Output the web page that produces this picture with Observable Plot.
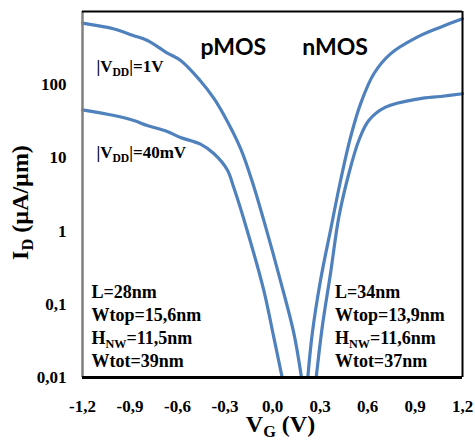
<!DOCTYPE html>
<html><head><meta charset="utf-8">
<script src="https://cdn.jsdelivr.net/npm/d3@7"></script>
<script src="https://cdn.jsdelivr.net/npm/@observablehq/plot@0.6"></script>
<style>body{margin:0;background:#fff} svg{display:block}</style>
</head><body><div id="chart"></div>
<script>
const xTicks = [-1.2, -0.9, -0.6, -0.3, 0, 0.3, 0.6, 0.9, 1.2];
const yTicks = [0.01, 0.1, 1, 10, 100];
const yTickLabels = ["0,01", "0,1", "1", "10", "100"];

const pmos1V_V = [-1.2, -1.0, -0.88, -0.79, -0.67, -0.58, -0.46, -0.37, -0.29, -0.2, -0.13, -0.055, 0.05, 0.135, 0.183];
const pmos1V_I = [692, 577, 470, 402, 275, 214, 116, 65, 33, 13.2, 4.91, 1.40, 0.211, 0.040, 0.010];
const pmos40_V = [-1.2, -1.0, -0.876, -0.791, -0.665, -0.581, -0.455, -0.371, -0.286, -0.244, -0.16, -0.055, 0.008, 0.061];
const pmos40_I = [45.4, 37.9, 32.4, 27.7, 23.0, 19.0, 15.4, 11.5, 6.9, 3.9, 1.02, 0.155, 0.0356, 0.01];
const nmos1V_V = [0.223, 0.251, 0.303, 0.366, 0.430, 0.493, 0.556, 0.640, 0.745, 0.914, 1.061, 1.2];
const nmos1V_I = [0.01, 0.0396, 0.211, 1.02, 4.91, 19.2, 54.8, 141, 264, 446, 611, 794];
const nmos40_V = [0.276, 0.314, 0.366, 0.419, 0.482, 0.545, 0.608, 0.714, 0.924, 1.061, 1.2];
const nmos40_I = [0.01, 0.0487, 0.261, 1.55, 6.07, 17.3, 32.4, 49.3, 64.1, 69.0, 75.2];

const paramsLeft = ["L=28nm", "Wtop=15,6nm", "H_{NW}=11,5nm", "Wtot=39nm"];
const paramsRight = ["L=34nm", "Wtop=13,9nm", "H_{NW}=11,6nm", "Wtot=37nm"];

const seriesList = [
  ["pMOS 1V", pmos1V_V, pmos1V_I],
  ["pMOS 40mV", pmos40_V, pmos40_I],
  ["nMOS 1V", nmos1V_V, nmos1V_I],
  ["nMOS 40mV", nmos40_V, nmos40_I]
];
const rows = seriesList.flatMap(([s, V, I]) => V.map((v, i) => ({series: s, V: v, I: I[i]})));

const serif = "'Liberation Serif', 'Times New Roman', serif";
const sans = "Lato, 'Open Sans', sans-serif";
const bold = {fontWeight: "bold", fontFamily: serif, fill: "black"};

const plot = Plot.plot({
  width: 475, height: 441,
  marginTop: 11, marginRight: 13, marginBottom: 64, marginLeft: 82,
  x: {domain: [-1.2, 1.2], axis: null},
  y: {type: "log", domain: [0.01, 1000], axis: null},
  style: {background: "white", fontFamily: serif, overflow: "visible"},
  marks: [
    Plot.axisX(xTicks, {label: null, tickSize: 0, tickPadding: 22, tickFormat: d => d.toFixed(1).replace(".", ","), fontSize: 17, ...bold}),
    Plot.axisY(yTicks, {label: null, tickSize: 0, tickPadding: 16, tickFormat: d => yTickLabels[yTicks.indexOf(d)], fontSize: 17, ...bold}),
    Plot.line(rows, {x: "V", y: "I", z: "series", stroke: "#4F81BD", strokeWidth: 3.2, curve: "catmull-rom"}),
    Plot.ruleX([-1.2], {stroke: "#808080", strokeWidth: 2.5}),
    Plot.ruleX([1.2], {stroke: "black", strokeWidth: 2}),
    Plot.ruleY([1000], {stroke: "black", strokeWidth: 2}),
    Plot.ruleY([0.01], {stroke: "black", strokeWidth: 3}),
    Plot.text(["|V_{DD}|=1V"], {x: -1.112, y: 148, text: d => d, textAnchor: "start", lineAnchor: "bottom", fontSize: 17, ...bold}),
    Plot.text(["|V_{DD}|=40mV"], {x: -1.112, y: 10.1, text: d => d, textAnchor: "start", lineAnchor: "bottom", fontSize: 17, ...bold}),
    Plot.text(["pMOS"], {x: -0.455, y: 251, text: d => d, textAnchor: "start", lineAnchor: "bottom", fontSize: 23, fontWeight: "bold", fontFamily: sans, fill: "black"}),
    Plot.text(["nMOS"], {x: 0.188, y: 251, text: d => d, textAnchor: "start", lineAnchor: "bottom", fontSize: 23, fontWeight: "bold", fontFamily: sans, fill: "black"}),
    Plot.text([paramsLeft.join("\n")], {frameAnchor: "bottom-left", dx: 9, dy: -11, text: d => d, textAnchor: "start", lineAnchor: "bottom", lineHeight: 1.27, fontSize: 18, ...bold}),
    Plot.text([paramsRight.join("\n")], {x: 0.394, frameAnchor: "bottom", dy: -11, text: d => d, textAnchor: "start", lineAnchor: "bottom", lineHeight: 1.27, fontSize: 18, ...bold}),
    Plot.text(["I_{D} (µA/µm)"], {frameAnchor: "left", rotate: -90, dx: -62, dy: 8, text: d => d, textAnchor: "middle", lineAnchor: "middle", fontSize: 24, ...bold}),
    Plot.text(["V_{G} (V)"], {frameAnchor: "bottom", dx: 8, dy: 54, text: d => d, textAnchor: "middle", lineAnchor: "bottom", fontSize: 24, ...bold})
  ]
});
document.getElementById("chart").appendChild(plot);

// fonts: serif everywhere except the pMOS / nMOS titles
plot.querySelectorAll("text").forEach(el => {
  const t = el.textContent;
  el.setAttribute("font-family", (t === "pMOS" || t === "nMOS") ? sans : serif);
  el.setAttribute("font-weight", "bold");
});

// turn _{...} into subscript tspans
const NS = "http://www.w3.org/2000/svg";
plot.querySelectorAll("text, tspan").forEach(el => {
  if (el.children.length) return;
  const s = el.textContent;
  if (!s.includes("_{")) return;
  const fs = parseFloat(getComputedStyle(el).fontSize);
  const shift = Math.round(fs * 0.22);
  el.textContent = "";
  const parts = s.split(/(_\{[^}]*\})/);
  let shifted = false;
  parts.forEach(p => {
    if (!p) return;
    const t = document.createElementNS(NS, "tspan");
    if (p.startsWith("_{")) {
      t.textContent = p.slice(2, -1);
      t.setAttribute("font-size", (fs * 0.68).toFixed(1));
      t.setAttribute("dy", shift);
      shifted = true;
    } else {
      t.textContent = p;
      if (shifted) { t.setAttribute("dy", -shift); shifted = false; }
    }
    el.appendChild(t);
  });
});
</script>
</body></html>
